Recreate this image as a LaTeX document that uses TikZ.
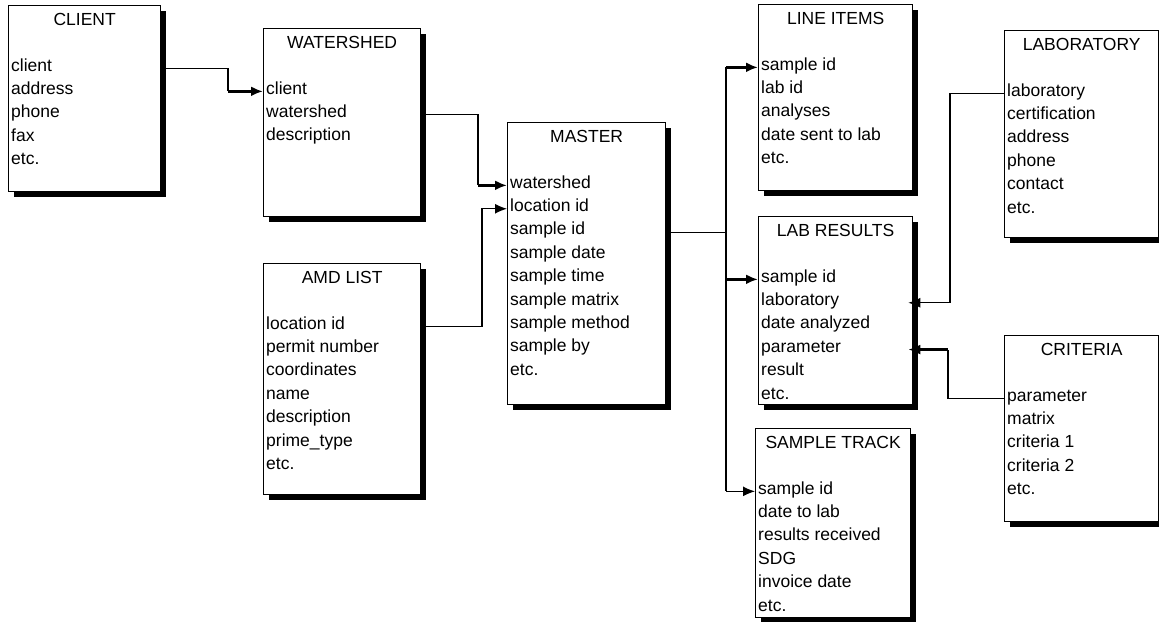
\documentclass[tikz,border=0pt]{standalone}
\usepackage{fontspec}
\setmainfont{Liberation Sans}
\usetikzlibrary{positioning,calc,arrows.meta,shadows}

\tikzset{
  entity/.style={draw, line width=1.3pt, fill=white, anchor=north west,
                 inner sep=0pt,
                 drop shadow={shadow xshift=5pt, shadow yshift=-5pt,
                              fill=black, opacity=1}},
  entityhead/.style={anchor=base, inner sep=0pt},
  field/.style={anchor=base west, inner sep=0pt},
  link/.style={line width=1.3pt},
  heavy/.style={line width=3pt},
  tip/.style={-{Latex[length=12pt,width=10pt]}},
  toshadow/.style={shorten >=-5pt}
}

% name, left, top, width, height, title, fields
\newcommand{\entitybox}[7]{%
  \node[entity, minimum width=#4pt, minimum height=#5pt] (#1) at (#2,#3) {};
  \node[entityhead] (#1-head) at ($(#1.north)+(0,20)$) {#6};
  \foreach \f [count=\i] in {#7}
    \node[field] (#1-\i) at ($(#1.north west)+(3,{66+23.4*(\i-1)})$) {\f};
}

\begin{document}
\begin{tikzpicture}[x=1pt, y=-1pt, font=\fontsize{17.5}{21}\selectfont]
\useasboundingbox (0,0) rectangle (1159,621);

\entitybox{client}{8}{5}{152}{186}{CLIENT}{client,address,phone,fax,etc.}
\entitybox{watershed}{263}{28}{157}{188}{WATERSHED}{client,watershed,description}
\entitybox{amd}{263}{263}{157}{231}{AMD LIST}%
  {location id,permit number,coordinates,name,description,prime\_type,etc.}
\entitybox{master}{507}{122}{158}{282}{MASTER}%
  {watershed,location id,sample id,sample date,sample time,sample matrix,sample method,sample by,etc.}
\entitybox{lineitems}{758}{4}{154}{186}{LINE ITEMS}%
  {sample id,lab id,analyses,date sent to lab,etc.}
\entitybox{labresults}{758}{216}{154}{188}{LAB RESULTS}%
  {sample id,laboratory,date analyzed,parameter,result,etc.}
\entitybox{sampletrack}{755}{428}{155}{189}{SAMPLE TRACK}%
  {sample id,date to lab,results received,SDG,invoice date,etc.}
\entitybox{laboratory}{1004}{30}{154}{207}{LABORATORY}%
  {laboratory,certification,address,phone,contact,etc.}
\entitybox{criteria}{1004}{335}{154}{186}{CRITERIA}%
  {parameter,matrix,criteria 1,criteria 2,etc.}

% bend points
\coordinate (bendA) at (228,0);
\coordinate (bendB) at (478,0);
\coordinate (bendC) at (482,0);
\coordinate (bus)   at (726,0);
\coordinate (bendD) at (950,0);
\coordinate (bendE) at (948,0);

% client -> watershed
\draw[link] (client.east |- client-1.mid) -| (bendA |- watershed-1.mid);
\draw[heavy,tip] (bendA |- watershed-1.mid) -- (watershed.west |- watershed-1.mid);

% watershed, amd list -> master
\draw[link] (watershed.east |- watershed-2.mid) -| (bendB |- master-1.mid);
\draw[heavy,tip] (bendB |- master-1.mid) -- (master.west |- master-1.mid);
\draw[link,tip] (amd.east |- amd-1.mid) -| (bendC |- master-2.mid)
               -- (master.west |- master-2.mid);

% master -> line items, lab results, sample track
\draw[link] (master.east |- master-3.mid) -- (bus |- master-3.mid);
\draw[link] (bus |- lineitems-1.mid) -- (bus |- sampletrack-1.mid);
\draw[heavy,tip] (bus |- lineitems-1.mid) -- (lineitems.west |- lineitems-1.mid);
\draw[heavy,tip] (bus |- labresults-1.mid) -- (labresults.west |- labresults-1.mid);
\draw[link,tip] (bus |- sampletrack-1.mid) -- (sampletrack.west |- sampletrack-1.mid);

% laboratory, criteria -> lab results
\draw[link,tip,toshadow] (laboratory.west |- laboratory-1.mid) -| (bendD |- labresults-2.mid)
               -- (labresults.east |- labresults-2.mid);
\draw[link] (criteria.west |- criteria-1.mid) -| (bendE |- labresults-4.mid);
\draw[heavy,tip,toshadow] (bendE |- labresults-4.mid) -- (labresults.east |- labresults-4.mid);
\end{tikzpicture}
\end{document}
